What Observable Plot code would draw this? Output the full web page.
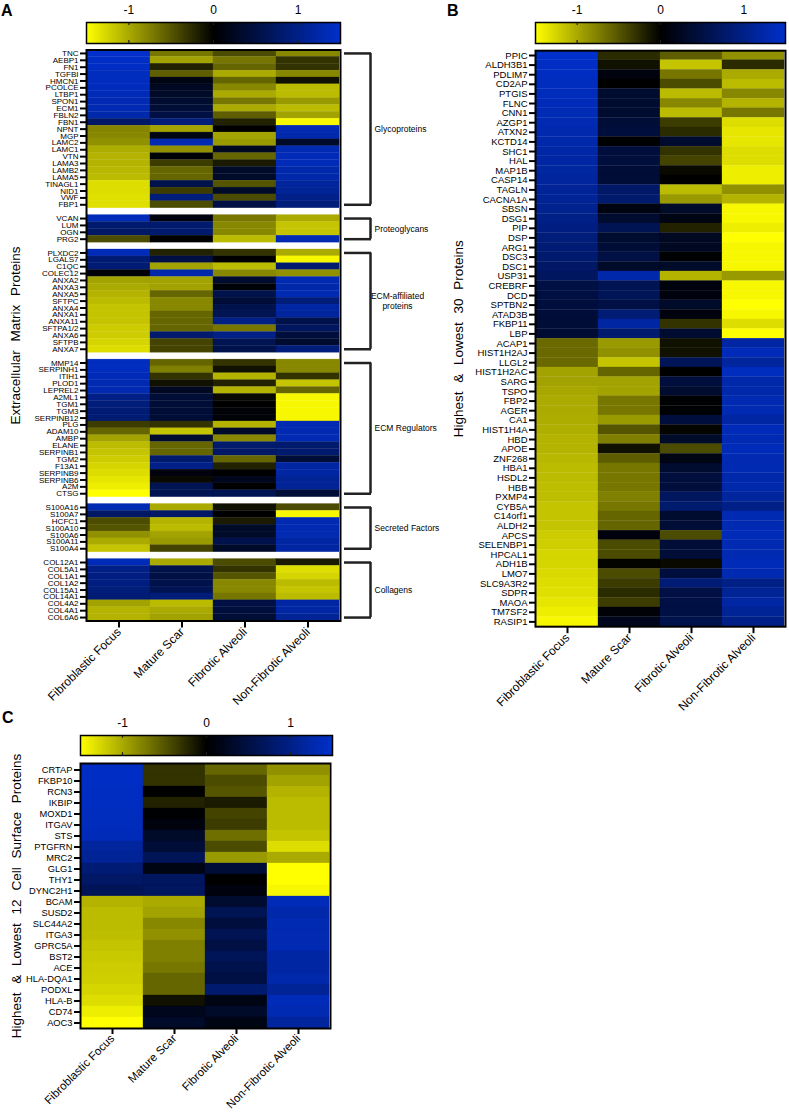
<!DOCTYPE html>
<html><head><meta charset="utf-8">
<script src="https://cdn.jsdelivr.net/npm/d3@7"></script>
<script src="https://cdn.jsdelivr.net/npm/@observablehq/plot@0.6"></script>
<style>
body{margin:0;background:#fff;}
#fig{position:relative;width:789px;height:1115px;overflow:hidden;font-family:Arial,"Liberation Sans",Helvetica,sans-serif;}
.letter{position:absolute;font-weight:bold;font-size:16px;font-family:Arial,"Liberation Sans",sans-serif;}
</style></head><body><div id="fig"></div>
<script>
// ---------- shared categories / scale ----------
const columns = ["Fibroblastic Focus","Mature Scar","Fibrotic Alveoli","Non-Fibrotic Alveoli"];
const colorTicks = [-1, 0, 1];
const colorDomain = [-1.5, 0, 1.5];
const colorRange = ["#ffff00", "#000000", "#0030cc"];

// ---------- Panel A: Extracellular matrix proteins ----------
const aGroupNames = ["Glycoproteins","Proteoglycans","ECM-affiliated\nproteins","ECM Regulators","Secreted Factors","Collagens"];
const aGroupSizes = [23, 4, 15, 20, 7, 9];
const aGenes = ["TNC","AEBP1","FN1","TGFBI","HMCN1","PCOLCE","LTBP1","SPON1","ECM1","FBLN2","FBN1","NPNT","MGP","LAMC2","LAMC1","VTN","LAMA3","LAMB2","LAMA5","TINAGL1","NID1","VWF","FBP1",
  "VCAN","LUM","OGN","PRG2",
  "PLXDC2","LGALS7","C1QC","COLEC12","ANXA2","ANXA3","ANXA5","SFTPC","ANXA4","ANXA1","ANXA11","SFTPA1/2","ANXA6","SFTPB","ANXA7",
  "MMP14","SERPINH1","ITIH1","PLOD1","LEPREL2","A2ML1","TGM1","TGM3","SERPINB12","PLG","ADAM10","AMBP","ELANE","SERPINB1","TGM2","F13A1","SERPINB9","SERPINB6","A2M","CTSG",
  "S100A16","S100A7","HCFC1","S100A10","S100A6","S100A11","S100A4",
  "COL12A1","COL5A1","COL1A1","COL1A2","COL15A1","COL14A1","COL4A2","COL4A1","COL6A6"];
const aFF = [1.5,1.45,1.45,1.4,1.4,1.38,1.35,1.32,1.3,1.25,0.75,-0.78,-0.8,-0.85,-1.02,-1.05,-1.05,-1.08,-1.1,-1.3,-1.3,-1.32,-1.32,
  1.35,0.8,0.75,-0.45,
  1.35,0.85,0.85,0.05,-0.95,-1.0,-1.05,-1.1,-1.15,-1.15,-1.15,-1.2,-1.2,-1.25,-1.3,
  1.4,1.4,1.35,1.3,1.3,1.0,0.9,0.85,0.85,-0.35,-0.6,-0.95,-1.1,-1.15,-1.2,-1.25,-1.3,-1.35,-1.4,-1.5,
  1.3,0.75,-0.45,-0.5,-0.85,-1.0,-1.15,
  1.35,1.0,0.95,0.95,0.9,0.85,-0.95,-1.05,-1.05];
const aMS = [-0.7,-0.95,-0.2,-0.55,0.15,0.25,0.3,0.35,0.4,0.5,0.9,-0.95,0.15,1.3,-0.85,0.05,-0.35,-0.6,-0.6,0.55,-0.35,0.9,-0.45,
  0.1,0.8,0.8,0.0,
  -0.2,0.5,-0.95,1.25,-0.95,-0.95,-0.6,-0.8,-0.8,-0.6,-0.6,-0.6,0.8,-0.4,-0.4,
  -0.6,-0.75,-0.3,-0.1,0.25,0.4,0.4,0.4,0.4,-0.3,-1.15,0.35,-0.6,-0.6,0.8,1.0,0.1,-0.05,0.6,0.6,
  -1.0,0.75,-1.05,-1.1,-0.95,-0.9,-0.4,
  -1.0,0.55,0.5,0.55,0.6,0.9,-1.1,-1.0,-0.95];
const aFA = [-0.45,-0.7,-0.6,-1.0,-0.6,-0.8,-1.0,-0.7,-1.0,-0.55,-0.2,0.0,-0.95,-0.9,0.25,-0.6,-0.15,0.3,0.3,-0.5,0.3,-0.45,0.5,
  -0.7,-0.8,-0.8,-1.1,
  -0.3,0.0,-1.1,-0.8,0.35,0.05,0.55,0.4,0.55,0.6,1.0,-0.7,1.0,0.6,0.55,
  -0.3,-0.1,-1.05,-0.2,-1.05,-0.05,0.0,0.05,0.05,-1.05,0.3,-0.8,0.8,0.75,-0.6,-0.2,0.0,0.2,0.0,0.6,
  -0.1,0.0,-0.15,0.3,0.3,0.55,0.3,
  -0.45,-0.3,-0.5,-0.8,-0.8,-0.7,0.5,0.45,0.4];
const aNFA = [-0.8,-0.3,-0.3,-0.8,-0.1,-1.1,-1.1,-0.9,-1.1,-0.95,-1.45,1.3,1.25,0.3,1.3,1.35,1.35,1.25,1.25,1.15,1.1,1.0,0.9,
  -1.0,-1.15,-1.15,1.3,
  -1.0,-1.45,0.8,-0.85,1.3,1.25,1.3,0.9,1.2,1.15,0.55,0.7,0.45,0.35,0.9,
  -0.8,-0.8,-0.3,-1.15,-0.6,-1.45,-1.45,-1.45,-1.45,1.3,1.3,1.3,0.8,0.8,0.4,1.2,1.2,1.1,1.1,0.4,
  -0.45,-1.45,1.3,1.3,1.3,1.2,1.2,
  -0.15,-1.3,-1.25,-1.1,-1.15,-1.1,1.2,1.2,1.1];

// ---------- Panel B: highest & lowest 30 proteins ----------
const bGenes = ["PPIC","ALDH3B1","PDLIM7","CD2AP","PTGIS","FLNC","CNN1","AZGP1","ATXN2","KCTD14","SHC1","HAL","MAP1B","CASP14","TAGLN","CACNA1A","SBSN","DSG1","PIP","DSP","ARG1","DSC3","DSC1","USP31","CREBRF","DCD","SPTBN2","ATAD3B","FKBP11","LBP",
  "ACAP1","HIST1H2AJ","LLGL2","HIST1H2AC","SARG","TSPO","FBP2","AGER","CA1","HIST1H4A","HBD","APOE","ZNF268","HBA1","HSDL2","HBB","PXMP4","CYB5A","C14orf1","ALDH2","APCS","SELENBP1","HPCAL1","ADH1B","LMO7","SLC9A3R2","SDPR","MAOA","TM7SF2","RASIP1"];
const bFF = [1.5,1.45,1.42,1.4,1.38,1.35,1.33,1.3,1.28,1.25,1.22,1.2,1.18,1.15,1.12,1.1,1.05,1.0,0.95,0.9,0.85,0.8,0.75,0.7,0.5,0.48,0.45,0.42,0.4,0.38,
  -0.62,-0.62,-0.62,-0.95,-0.95,-0.98,-1.0,-1.0,-1.02,-1.03,-1.05,-1.05,-1.08,-1.1,-1.1,-1.12,-1.12,-1.15,-1.15,-1.15,-1.2,-1.22,-1.25,-1.25,-1.28,-1.3,-1.32,-1.35,-1.4,-1.45];
const bMS = [-0.25,-0.1,0.1,0.0,0.35,0.35,0.35,0.4,0.45,0.02,0.45,0.45,0.4,0.4,0.75,0.8,0.12,0.35,0.6,0.35,0.4,0.5,0.3,1.25,0.6,0.65,0.5,0.85,1.2,0.8,
  -0.9,-0.85,-1.15,-0.6,-0.95,-0.95,-0.7,-0.7,-0.9,-0.5,-0.75,-0.1,-0.55,-0.7,-0.7,-0.7,-0.75,-0.7,-0.6,-0.6,0.1,-0.45,-0.45,-0.02,-0.45,-0.35,-0.25,-0.35,0.05,0.2];
const bFA = [-0.55,-1.15,-0.7,-0.45,-1.1,-0.8,-1.1,-0.35,-0.25,0.35,-0.3,-0.4,-0.05,0.0,-1.1,-0.9,0.3,0.15,-0.2,0.25,0.25,0.02,0.3,-1.05,0.1,0.1,0.3,0.1,-0.3,0.35,
  -0.1,-0.1,0.65,0.0,0.45,0.35,0.02,0.02,0.45,-0.03,0.3,-0.45,0.15,0.35,0.45,0.45,0.7,0.8,0.35,0.4,-0.45,0.4,0.4,-0.05,0.45,0.85,0.5,0.5,0.5,0.55];
const bNFA = [-0.85,-0.25,-1.0,-1.1,-0.8,-1.05,-0.7,-1.3,-1.35,-1.35,-1.3,-1.3,-1.4,-1.4,-0.85,-1.05,-1.45,-1.45,-1.4,-1.5,-1.45,-1.45,-1.45,-0.9,-1.45,-1.45,-1.5,-1.45,-1.3,-1.5,
  1.2,1.35,1.15,1.4,1.25,1.25,1.3,1.3,1.2,1.35,1.3,1.35,1.3,1.3,1.25,1.25,1.15,1.0,1.3,1.3,1.35,1.3,1.3,1.35,1.3,1.0,1.1,1.2,1.1,1.0];

// ---------- Panel C: highest & lowest 12 cell surface proteins ----------
const cGenes = ["CRTAP","FKBP10","RCN3","IKBIP","MOXD1","ITGAV","STS","PTGFRN","MRC2","GLG1","THY1","DYNC2H1",
  "BCAM","SUSD2","SLC44A2","ITGA3","GPRC5A","BST2","ACE","HLA-DQA1","PODXL","HLA-B","CD74","AOC3"];
const cFF = [1.45,1.45,1.42,1.42,1.4,1.38,1.35,1.15,1.1,0.85,0.75,0.65,-1.05,-1.1,-1.1,-1.12,-1.15,-1.18,-1.2,-1.22,-1.25,-1.3,-1.4,-1.5];
const cMS = [-0.3,-0.3,0.0,-0.2,0.02,0.1,0.3,0.4,0.65,0.15,0.7,0.7,-1.0,-0.95,-0.8,-0.85,-0.75,-0.75,-0.7,-0.6,-0.6,-0.1,0.2,0.3];
const cFA = [-0.6,-0.45,-0.5,-0.15,-0.4,-0.35,-0.65,-0.45,-0.9,0.4,0.0,0.1,0.35,0.6,0.45,0.6,0.5,0.65,0.55,0.5,0.8,0.15,0.3,0.15];
const cNFA = [-0.85,-0.95,-1.05,-1.1,-1.1,-1.1,-1.15,-1.3,-1.0,-1.5,-1.5,-1.45,1.35,1.25,1.3,1.3,1.3,1.2,1.2,1.25,1.1,1.35,1.3,1.15];

// ---------- helpers ----------
const fig = document.getElementById("fig");
const FONT = "Arial, 'Liberation Sans', Helvetica, sans-serif";
const color = {type: "linear", domain: colorDomain, range: colorRange, interpolate: "rgb", clamp: true};
const baseStyle = {background: "transparent", color: "black", fontFamily: FONT, overflow: "visible"};

function place(node, left, top) {
  node.style.position = "absolute";
  node.style.left = left + "px";
  node.style.top = top + "px";
  fig.appendChild(node);
}
function longData(genes, series) {
  return genes.flatMap((g, i) => columns.map((c, j) => ({gene: g, col: c, value: series[j][i]})));
}
function letter(t, left, top) {
  const d = document.createElement("div");
  d.className = "letter"; d.textContent = t;
  d.style.left = left + "px"; d.style.top = top + "px";
  fig.appendChild(d);
}

function colorbar(x0, x1, yTop, yBot) {
  const m = 12;
  const p = Plot.plot({
    width: x1 - x0 + 2 * m, height: (yBot - yTop) + 22 + 4,
    marginLeft: m, marginRight: m, marginTop: 22, marginBottom: 4,
    style: {...baseStyle, fontSize: "12px"},
    x: {domain: [colorDomain[0], colorDomain[2]]},
    y: {domain: [0, 1], axis: null},
    color,
    marks: [
      Plot.raster({fill: (x, y) => x, x1: colorDomain[0], x2: colorDomain[2], y1: 0, y2: 1, width: 256, height: 1, imageRendering: "auto"}),
      Plot.ruleX(colorTicks, {y1: 0, y2: 0.14, stroke: "#222", strokeWidth: 1.2}),
      Plot.ruleX(colorTicks, {y1: 0.86, y2: 1, stroke: "#222", strokeWidth: 1.2}),
      Plot.frame({stroke: "black", strokeWidth: 1.5}),
      Plot.axisX(colorTicks, {anchor: "top", tickSize: 0, tickPadding: 9, tickFormat: d => String(d), fontSize: 12, label: null})
    ]
  });
  place(p, x0 - m, yTop - 22);
}

function heatmap(o) {
  const p = Plot.plot({
    width: o.marginLeft + o.frameW + o.marginRight,
    height: o.marginTop + o.frameH + o.marginBottom,
    marginLeft: o.marginLeft, marginRight: o.marginRight, marginTop: o.marginTop, marginBottom: o.marginBottom,
    style: {...baseStyle, fontSize: "12px"},
    x: {type: "band", domain: columns, padding: 0},
    y: {type: "band", domain: o.rows, padding: 0},
    color,
    marks: [
      Plot.cell(o.data, {x: "col", y: "gene", fill: "value", stroke: "value", strokeWidth: 0.3, inset: 0}),
      Plot.frame({stroke: "black", strokeWidth: 2}),
      Plot.axisY(o.ticks, {tickSize: 6, tickPadding: 2, strokeWidth: 2, fontSize: o.labelSize, fontFamily: o.labelFont, label: null}),
      Plot.axisX(columns, {tickSize: o.xTick || 7, tickPadding: 2, strokeWidth: 2, tickRotate: -45, fontSize: o.xFont || 12, label: null}),
      Plot.text([o.title], {frameAnchor: "left", textAnchor: "middle", dx: o.titleX - o.left - o.marginLeft, rotate: -90, fontSize: 13.5})
    ]
  });
  d3.select(p).selectAll("text").filter(function () { return this.textContent === o.title; })
    .style("word-spacing", "5px");
  place(p, o.left, o.top);
}

// ---------- Panel A ----------
const aRows = [];
const aGroups = [];
{
  let k = 0;
  aGroupSizes.forEach((n, gi) => {
    const start = aRows.length;
    for (let i = 0; i < n; i++) aRows.push(aGenes[k++]);
    aGroups.push({label: aGroupNames[gi], y1: start + 0.5, y2: start + n - 0.5, ym: start + n / 2, centered: aGroupNames[gi].includes("\n")});
    if (gi < aGroupSizes.length - 1) aRows.push("gap" + gi);
  });
}
letter("A", 1, 2);
colorbar(86, 340, 22, 43);
heatmap({
  rows: aRows, ticks: aGenes, data: longData(aGenes, [aFF, aMS, aFA, aNFA]),
  left: 0, top: 46, marginLeft: 86, marginRight: 5, marginTop: 3.5, marginBottom: 100,
  frameW: 254, frameH: 571,
  labelSize: 8, labelFont: "'Liberation Sans Narrow', 'Arial Narrow', Arial, sans-serif",
  title: "Extracellular Matrix Proteins", titleX: 15
});
// group brackets
{
  const p = Plot.plot({
    width: 110, height: 3.5 + 571 + 2,
    marginLeft: 0, marginRight: 0, marginTop: 3.5, marginBottom: 2,
    style: {...baseStyle, fontSize: "8.5px"},
    x: {domain: [0, 110], range: [0, 110], axis: null},
    y: {domain: [0, aRows.length], reverse: true, axis: null},
    marks: [
      Plot.ruleX(aGroups, {x: 30, y1: "y1", y2: "y2", stroke: "#222", strokeWidth: 2.5}),
      Plot.ruleY(aGroups, {y: "y1", x1: 4, x2: 31, stroke: "#222", strokeWidth: 2.5}),
      Plot.ruleY(aGroups, {y: "y2", x1: 4, x2: 31, stroke: "#222", strokeWidth: 2.5}),
      Plot.text(aGroups.filter(d => !d.centered), {x: 34, y: "ym", text: "label", textAnchor: "start", fontSize: 8.5}),
      Plot.text(aGroups.filter(d => d.centered), {x: 57, y: "ym", text: "label", textAnchor: "middle", fontSize: 8.5, lineHeight: 1.2})
    ]
  });
  place(p, 340, 46);
}

// ---------- Panel B ----------
letter("B", 447, 2);
colorbar(535, 785, 22, 43);
heatmap({
  rows: bGenes, ticks: bGenes, data: longData(bGenes, [bFF, bMS, bFA, bNFA]),
  left: 440, top: 46, marginLeft: 95, marginRight: 4, marginTop: 4.2, marginBottom: 100,
  frameW: 250, frameH: 576,
  labelSize: 9.5, labelFont: FONT,
  title: "Highest & Lowest 30 Proteins", titleX: 458
});

// ---------- Panel C ----------
letter("C", 2, 709);
colorbar(80, 332, 735, 755);
heatmap({
  rows: cGenes, ticks: cGenes, data: longData(cGenes, [cFF, cMS, cFA, cNFA]),
  left: 0, top: 758, marginLeft: 80, marginRight: 5, marginTop: 5, marginBottom: 85,
  frameW: 250, frameH: 265,
  labelSize: 9.3, labelFont: FONT, xTick: 6, xFont: 11.5,
  title: "Highest & Lowest 12 Cell Surface Proteins", titleX: 16
});
</script></body></html>
